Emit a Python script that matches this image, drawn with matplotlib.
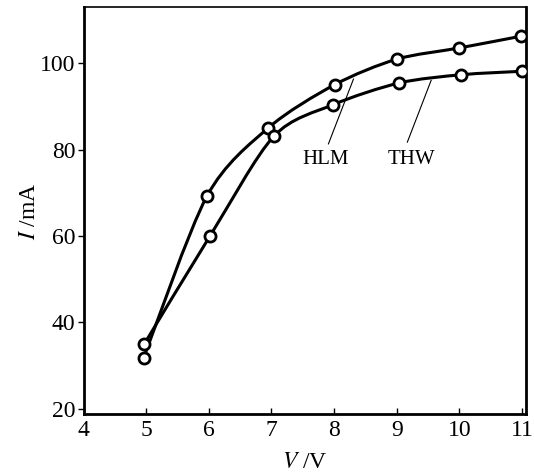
import numpy as np
import matplotlib
matplotlib.use("Agg")
import matplotlib.pyplot as plt
from matplotlib.path import Path
from matplotlib.patches import PathPatch

plt.rcParams['font.family'] = ['Liberation Serif', 'DejaVu Serif']
plt.rcParams['mathtext.fontset'] = 'stix'

# HLM curve (upper)
hlm_v = [4.96, 5.97, 6.95, 8.01, 9.0, 10.0, 10.98]
hlm_i = [31.8, 69.2, 85.0, 95.0, 100.9, 103.5, 106.2]

# THW curve (lower)
thw_v = [4.97, 6.02, 7.04, 7.99, 9.04, 10.03, 11.0]
thw_i = [35.0, 60.0, 83.1, 90.4, 95.4, 97.3, 98.1]

x_ticks = [4, 5, 6, 7, 8, 9, 10, 11]
y_ticks = [20, 40, 60, 80, 100]


def smooth_path(xs, ys, k=7.0):
    # Catmull-Rom style spline through the points, as cubic Bezier segments
    pts = np.column_stack([xs, ys])
    verts = [pts[0]]
    codes = [Path.MOVETO]
    n = len(pts)
    for i in range(n - 1):
        p0 = pts[max(i - 1, 0)]
        p1 = pts[i]
        p2 = pts[i + 1]
        p3 = pts[min(i + 2, n - 1)]
        verts += [p1 + (p2 - p0) / k, p2 - (p3 - p1) / k, p2]
        codes += [Path.CURVE4] * 3
    return Path(verts, codes)


fig = plt.figure(figsize=(5.34, 4.75), dpi=100)
ax = fig.add_axes([0.1564, 0.1284, 0.9845 - 0.1564, 0.9846 - 0.1284])

for xs, ys in [(hlm_v, hlm_i), (thw_v, thw_i)]:
    ax.add_patch(PathPatch(smooth_path(xs, ys), fill=False, lw=2.2,
                           edgecolor='black', capstyle='round'))
    ax.plot(xs, ys, 'o', ms=8, mfc='white', mec='black', mew=2.0, zorder=3)

# label leaders
ax.plot([7.91, 8.31], [81.3, 96.3], color='black', lw=0.8)
ax.plot([9.17, 9.55], [81.7, 96.0], color='black', lw=0.8)
ax.text(7.86, 77.8, "HLM", fontsize=15, ha='center', va='center')
ax.text(9.23, 77.8, "THW", fontsize=15, ha='center', va='center')

ax.set_xlim(4, 11.06)
ax.set_ylim(18.8, 112.9)
ax.set_xticks(x_ticks)
ax.set_yticks(y_ticks)
ax.tick_params(axis='x', direction='in', length=4, width=1, labelsize=17, pad=4)
ax.tick_params(axis='y', direction='out', length=4, width=1, labelsize=17, pad=2)

for side in ['left', 'bottom', 'right']:
    ax.spines[side].set_linewidth(2)
ax.spines['top'].set_linewidth(1.2)

ax.set_xlabel("$V$ /V", fontsize=17, labelpad=8)
ax.set_ylabel("$I$ /mA", fontsize=17, labelpad=0)

fig.savefig("out.png", dpi=100)
